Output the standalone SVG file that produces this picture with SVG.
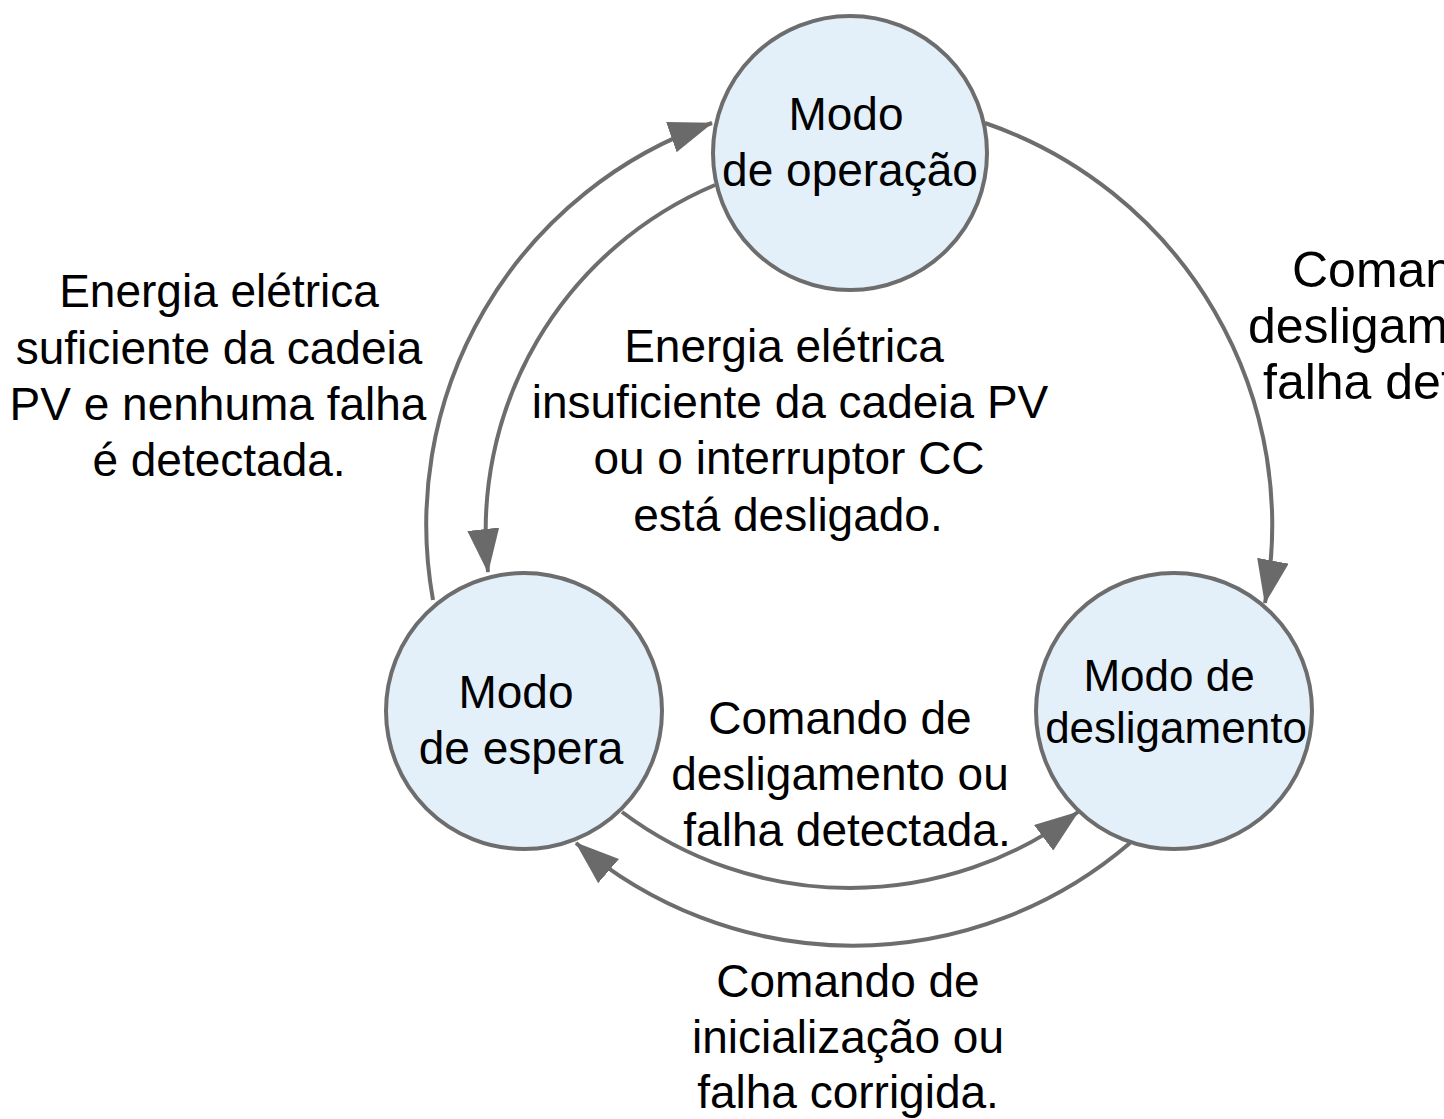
<svg xmlns="http://www.w3.org/2000/svg" width="1444" height="1119" viewBox="0 0 1444 1119">
<style>
.node{fill:#e3f0fa;stroke:#6d6d6d;stroke-width:4}
.conn{fill:none;stroke:#6d6d6d;stroke-width:4;marker-end:url(#ah)}
text{font-family:"Liberation Sans",Arial,sans-serif;font-size:46px;fill:#000}
.c{text-anchor:middle}
.s{font-size:44px}
.b{font-size:50px}
</style>
<defs>
<marker id="ah" markerUnits="userSpaceOnUse" viewBox="0 0 44 32" refX="43" refY="16" markerWidth="44" markerHeight="32" orient="auto">
<path d="M0,0 L44,16 L0,32 z" fill="#6a6a6a"/>
</marker>
</defs>
<rect width="1444" height="1119" fill="#fff"/>
<g id="connectors">
<path class="conn" d="M985,123 A425,425 0 0,1 1265,603"/>
<path class="conn" d="M433,600 A425,425 0 0,1 712,123"/>
<path class="conn" d="M1130,843 A425,425 0 0,1 576,843"/>
<path class="conn" d="M715,185 A375,375 0 0,0 488,572"/>
<path class="conn" d="M622,812 A380,380 0 0,0 1078,812"/>
</g>
<g id="node-operacao">
<circle class="node" cx="850" cy="153" r="137"/>
<text class="c" x="846" y="130">Modo</text>
<text class="c" x="850" y="186">de operação</text>
</g>
<g id="node-espera">
<circle class="node" cx="524" cy="711" r="138"/>
<text class="c" x="516" y="708">Modo</text>
<text class="c" x="521" y="764">de espera</text>
</g>
<g id="node-desligamento">
<circle class="node" cx="1174" cy="711" r="138"/>
<text class="c s" x="1169" y="691">Modo de</text>
<text class="c s" x="1176" y="743">desligamento</text>
</g>
<g id="labels">
<text class="c" x="219" y="307">Energia elétrica</text>
<text class="c" x="219" y="364">suficiente da cadeia</text>
<text class="c" x="218" y="420">PV e nenhuma falha</text>
<text class="c" x="219" y="476">é detectada.</text>
<text class="c" x="784" y="362">Energia elétrica</text>
<text class="c" x="790" y="418">insuficiente da cadeia PV</text>
<text class="c" x="789" y="474">ou o interruptor CC</text>
<text class="c" x="788" y="531">está desligado.</text>
<text class="b" x="1292" y="287">Comando de</text>
<text class="b" x="1248" y="343">desligamento ou</text>
<text class="b" x="1263" y="399">falha detectada.</text>
<text class="c" x="840" y="734">Comando de</text>
<text class="c" x="840" y="790">desligamento ou</text>
<text class="c" x="847" y="846">falha detectada.</text>
<text class="c" x="848" y="997">Comando de</text>
<text class="c" x="848" y="1053">inicialização ou</text>
<text class="c" x="848" y="1108">falha corrigida.</text>
</g>
</svg>
